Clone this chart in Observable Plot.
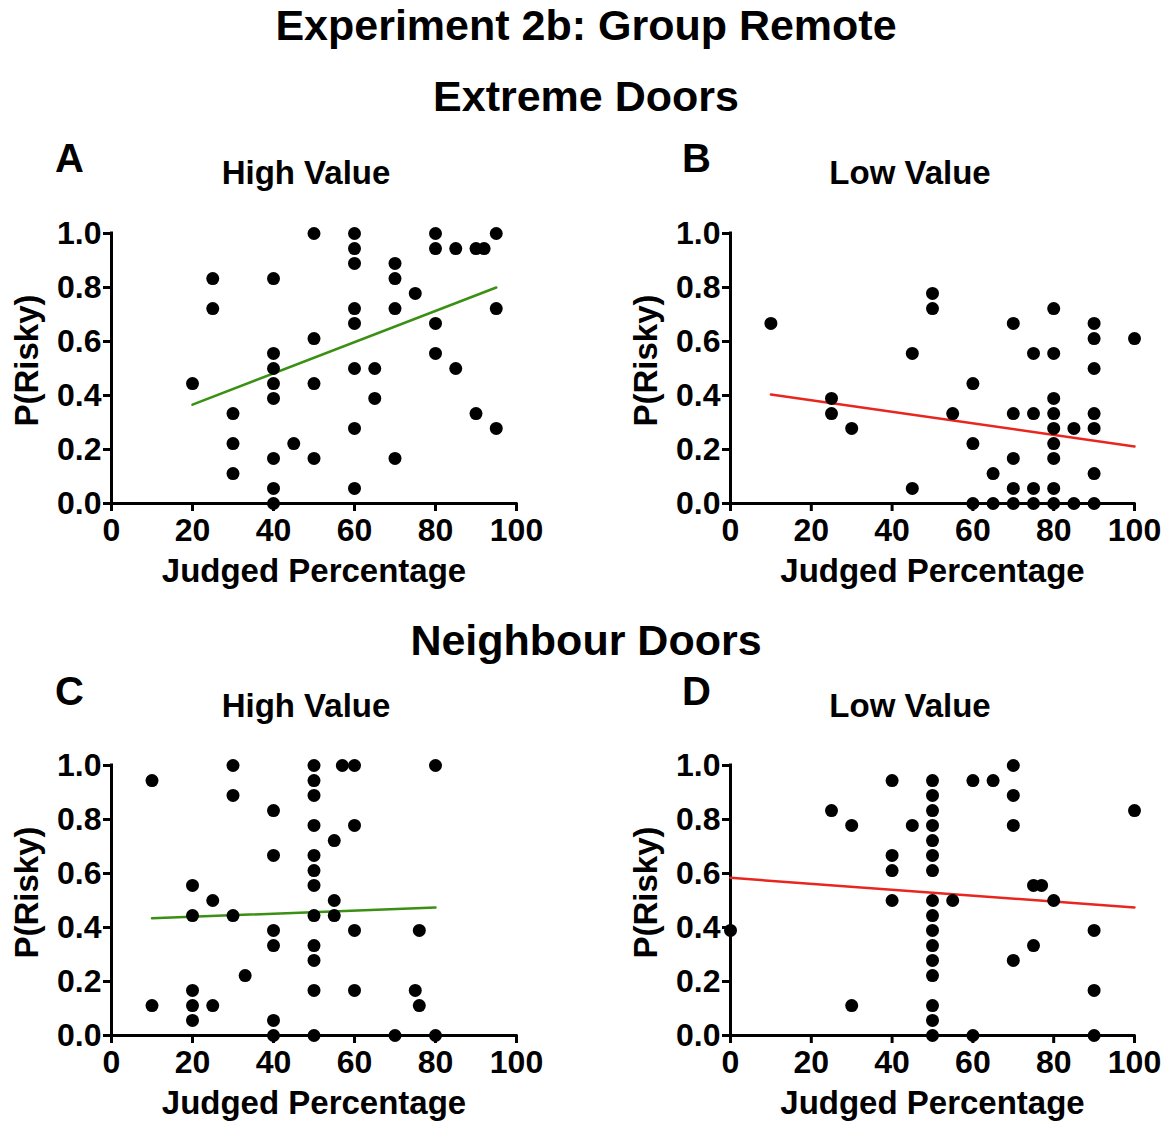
<!DOCTYPE html>
<html>
<head>
<meta charset="utf-8">
<script src="https://cdn.jsdelivr.net/npm/d3@7"></script>
<script src="https://cdn.jsdelivr.net/npm/@observablehq/plot@0.6"></script>
<style>
  body { margin: 0; background: white; overflow: hidden; }
  #fig { position: relative; width: 1166px; height: 1125px; }
  #fig > div, #fig > svg { position: absolute; }
</style>
</head>
<body>
<div id="fig"></div>
<script>
// ejes
const xTicks = [0, 20, 40, 60, 80, 100]
const yTicks = [0, 0.2, 0.4, 0.6, 0.8, 1.0]

// A: Extreme doors, high value  [judged %, P(risky)]
const extremeHigh = [
  [20, .444], [25, .833], [25, .722], [30, .333], [30, .222], [30, .111],
  [40, .833], [40, .556], [40, .5], [40, .444], [40, .389], [40, .167], [40, .056], [40, 0],
  [45, .222], [50, 1], [50, .611], [50, .444], [50, .167],
  [60, 1], [60, .944], [60, .889], [60, .722], [60, .667], [60, .5], [60, .278], [60, .056],
  [65, .5], [65, .389], [70, .889], [70, .833], [70, .722], [70, .167], [75, .778],
  [80, 1], [80, .944], [80, .667], [80, .556], [85, .944], [85, .5],
  [90, .944], [92, .944], [90, .333], [95, 1], [95, .722], [95, .278]
]
const extremeHighFit = [[20, .366], [95, .800]]

// B: Extreme doors, low value
const extremeLow = [
  [10, .667], [25, .389], [25, .333], [30, .278], [45, .556], [45, .056],
  [50, .778], [50, .722], [55, .333], [60, .444], [60, .222], [60, 0], [65, .111], [65, 0],
  [70, .667], [70, .333], [70, .167], [70, .056], [70, 0],
  [75, .556], [75, .333], [75, .056], [75, 0],
  [80, .722], [80, .556], [80, .389], [80, .333], [80, .278], [80, .222], [80, .167], [80, .056], [80, 0],
  [85, .278], [85, 0],
  [90, .667], [90, .611], [90, .5], [90, .333], [90, .278], [90, .111], [90, 0], [100, .611]
]
const extremeLowFit = [[10, .404], [100, .211]]

// C: Neighbour doors, high value
const neighbourHigh = [
  [10, .944], [10, .111], [20, .556], [20, .444], [20, .167], [20, .111], [20, .056],
  [25, .5], [25, .111], [30, 1], [30, .889], [30, .444], [33, .222],
  [40, .833], [40, .667], [40, .389], [40, .333], [40, .056], [40, 0],
  [50, 1], [50, .944], [50, .889], [50, .778], [50, .667], [50, .611], [50, .556], [50, .444],
  [50, .333], [50, .278], [50, .167], [50, 0],
  [55, .722], [55, .5], [55, .444], [57, 1], [60, 1], [60, .778], [60, .389], [60, .167],
  [70, 0], [75, .167], [76, .389], [76, .111], [80, 1], [80, 0]
]
const neighbourHighFit = [[10, .434], [80, .474]]

// D: Neighbour doors, low value
const neighbourLow = [
  [0, .389], [25, .833], [30, .778], [30, .111],
  [40, .944], [40, .667], [40, .611], [40, .5], [45, .778],
  [50, .944], [50, .889], [50, .833], [50, .778], [50, .722], [50, .667], [50, .611], [50, .5],
  [50, .444], [50, .389], [50, .333], [50, .278], [50, .222], [50, .111], [50, .056], [50, 0],
  [55, .5], [60, .944], [60, 0], [65, .944], [70, 1], [70, .889], [70, .778], [70, .278],
  [75, .556], [75, .333], [77, .556], [80, .5], [90, .389], [90, .167], [90, 0], [100, .833]
]
const neighbourLowFit = [[0, .584], [100, .474]]

const verde = '#3a9012'
const rojo = '#e8261f'
const fuente = "'Liberation Sans', Arial, Helvetica, sans-serif"

const fig = d3.select('#fig')

function panel(puntos, ajuste, color, {left, top, width, height, marginRight, marginBottom}) {
  const chart = Plot.plot({
    width, height,
    marginLeft: 111, marginRight, marginTop: 33, marginBottom,
    x: {domain: [0, 100]},
    y: {domain: [0, 1]},
    style: {fontFamily: fuente, fontWeight: 'bold', fontSize: '32px', color: 'black', background: 'transparent', overflow: 'visible'},
    marks: [
      Plot.axisX({ticks: xTicks, tickSize: 8, tickPadding: 7, strokeWidth: 3, fontSize: 32, fontWeight: 'bold', label: null}),
      Plot.axisY({ticks: yTicks, tickSize: 8, tickPadding: 2, strokeWidth: 3, fontSize: 32, fontWeight: 'bold', tickFormat: d3.format('.1f'), label: null}),
      Plot.ruleY([0], {strokeWidth: 3, strokeLinecap: 'square'}),
      Plot.ruleX([0], {strokeWidth: 3, strokeLinecap: 'square'}),
      Plot.line(ajuste, {x: d => d[0], y: d => d[1], stroke: color, strokeWidth: 2.5}),
      Plot.dot(puntos, {x: d => d[0], y: d => d[1], r: 6.5, fill: 'black'}),
      Plot.text(['Judged Percentage'], {frameAnchor: 'bottom', lineAnchor: 'middle', dy: 68, fontSize: 33, fontWeight: 'bold'}),
      Plot.text(['P(Risky)'], {frameAnchor: 'left', textAnchor: 'middle', lineAnchor: 'middle', dx: -84, dy: -8, rotate: -90, fontSize: 33, fontWeight: 'bold'})
    ]
  })
  fig.append('div').style('left', left + 'px').style('top', top + 'px').append(() => chart)
}

panel(extremeHigh, extremeHighFit, verde, {left: 0, top: 200, width: 560, height: 400, marginRight: 44, marginBottom: 97})
panel(extremeLow, extremeLowFit, rojo, {left: 619, top: 200, width: 547, height: 400, marginRight: 32, marginBottom: 97})
panel(neighbourHigh, neighbourHighFit, verde, {left: 0, top: 732, width: 560, height: 393, marginRight: 44, marginBottom: 90})
panel(neighbourLow, neighbourLowFit, rojo, {left: 619, top: 732, width: 547, height: 393, marginRight: 32, marginBottom: 90})

/* titulos */
const textos = [
  {t: 'Experiment 2b: Group Remote', x: 586, y: 40, s: 43, a: 'middle'},
  {t: 'Extreme Doors', x: 586, y: 111, s: 43, a: 'middle'},
  {t: 'Neighbour Doors', x: 586, y: 655, s: 43, a: 'middle'},
  {t: 'A', x: 55, y: 172, s: 40, a: 'start'},
  {t: 'B', x: 682, y: 172, s: 40, a: 'start'},
  {t: 'C', x: 55, y: 705, s: 40, a: 'start'},
  {t: 'D', x: 682, y: 705, s: 40, a: 'start'},
  {t: 'High Value', x: 306, y: 184, s: 33, a: 'middle'},
  {t: 'Low Value', x: 910, y: 184, s: 33, a: 'middle'},
  {t: 'High Value', x: 306, y: 717, s: 33, a: 'middle'},
  {t: 'Low Value', x: 910, y: 717, s: 33, a: 'middle'}
]
const overlay = fig.append('svg')
  .attr('width', 1166).attr('height', 1125)
  .style('left', '0px').style('top', '0px').style('pointer-events', 'none')
overlay.selectAll('text').data(textos).join('text')
  .attr('x', d => d.x).attr('y', d => d.y)
  .attr('text-anchor', d => d.a)
  .attr('font-family', fuente).attr('font-weight', 'bold')
  .attr('font-size', d => d.s)
  .text(d => d.t)
</script>
</body>
</html>
